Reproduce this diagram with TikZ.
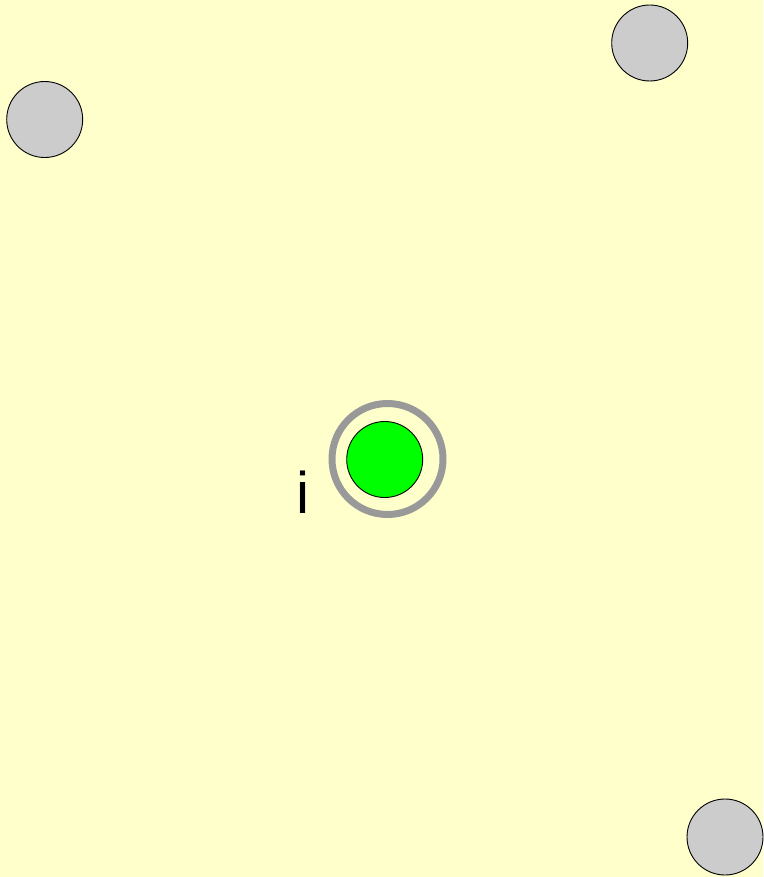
\documentclass[tikz,border=0pt]{standalone}
\usepackage{fontspec}
\setmainfont{Liberation Sans}
\definecolor{bgyellow}{RGB}{255,255,204}
\definecolor{dotgray}{RGB}{204,204,204}
\definecolor{dotgreen}{RGB}{0,255,0}
\definecolor{ringgray}{RGB}{153,153,153}
\begin{document}
\begin{tikzpicture}[x=1pt,y=-1pt,
  graydot/.style={circle,draw=black,line width=0.9pt,fill=dotgray,minimum size=76pt,inner sep=0pt},
  greendot/.style={circle,draw=black,line width=0.9pt,fill=dotgreen,minimum size=76pt,inner sep=0pt},
  ring/.style={circle,draw=ringgray,line width=7pt,minimum size=111pt,inner sep=0pt},
  lbl/.style={inner sep=0pt,font=\fontsize{58.7pt}{60pt}\selectfont}]
\fill[bgyellow] (0,0) rectangle (763,877);
\useasboundingbox (0,0) rectangle (763,877);
\node[graydot] (tl) at (44.7,119.5) {};
\node[graydot] (tr) at (649.7,43) {};
\node[graydot] (br) at (725,837) {};
\node[ring] (r) at (387.5,459) {};
\node[greendot] (g) at (384.7,459.5) {};
\node[lbl,anchor=base west] (i) at (296,513.3) {i};
\end{tikzpicture}
\end{document}
